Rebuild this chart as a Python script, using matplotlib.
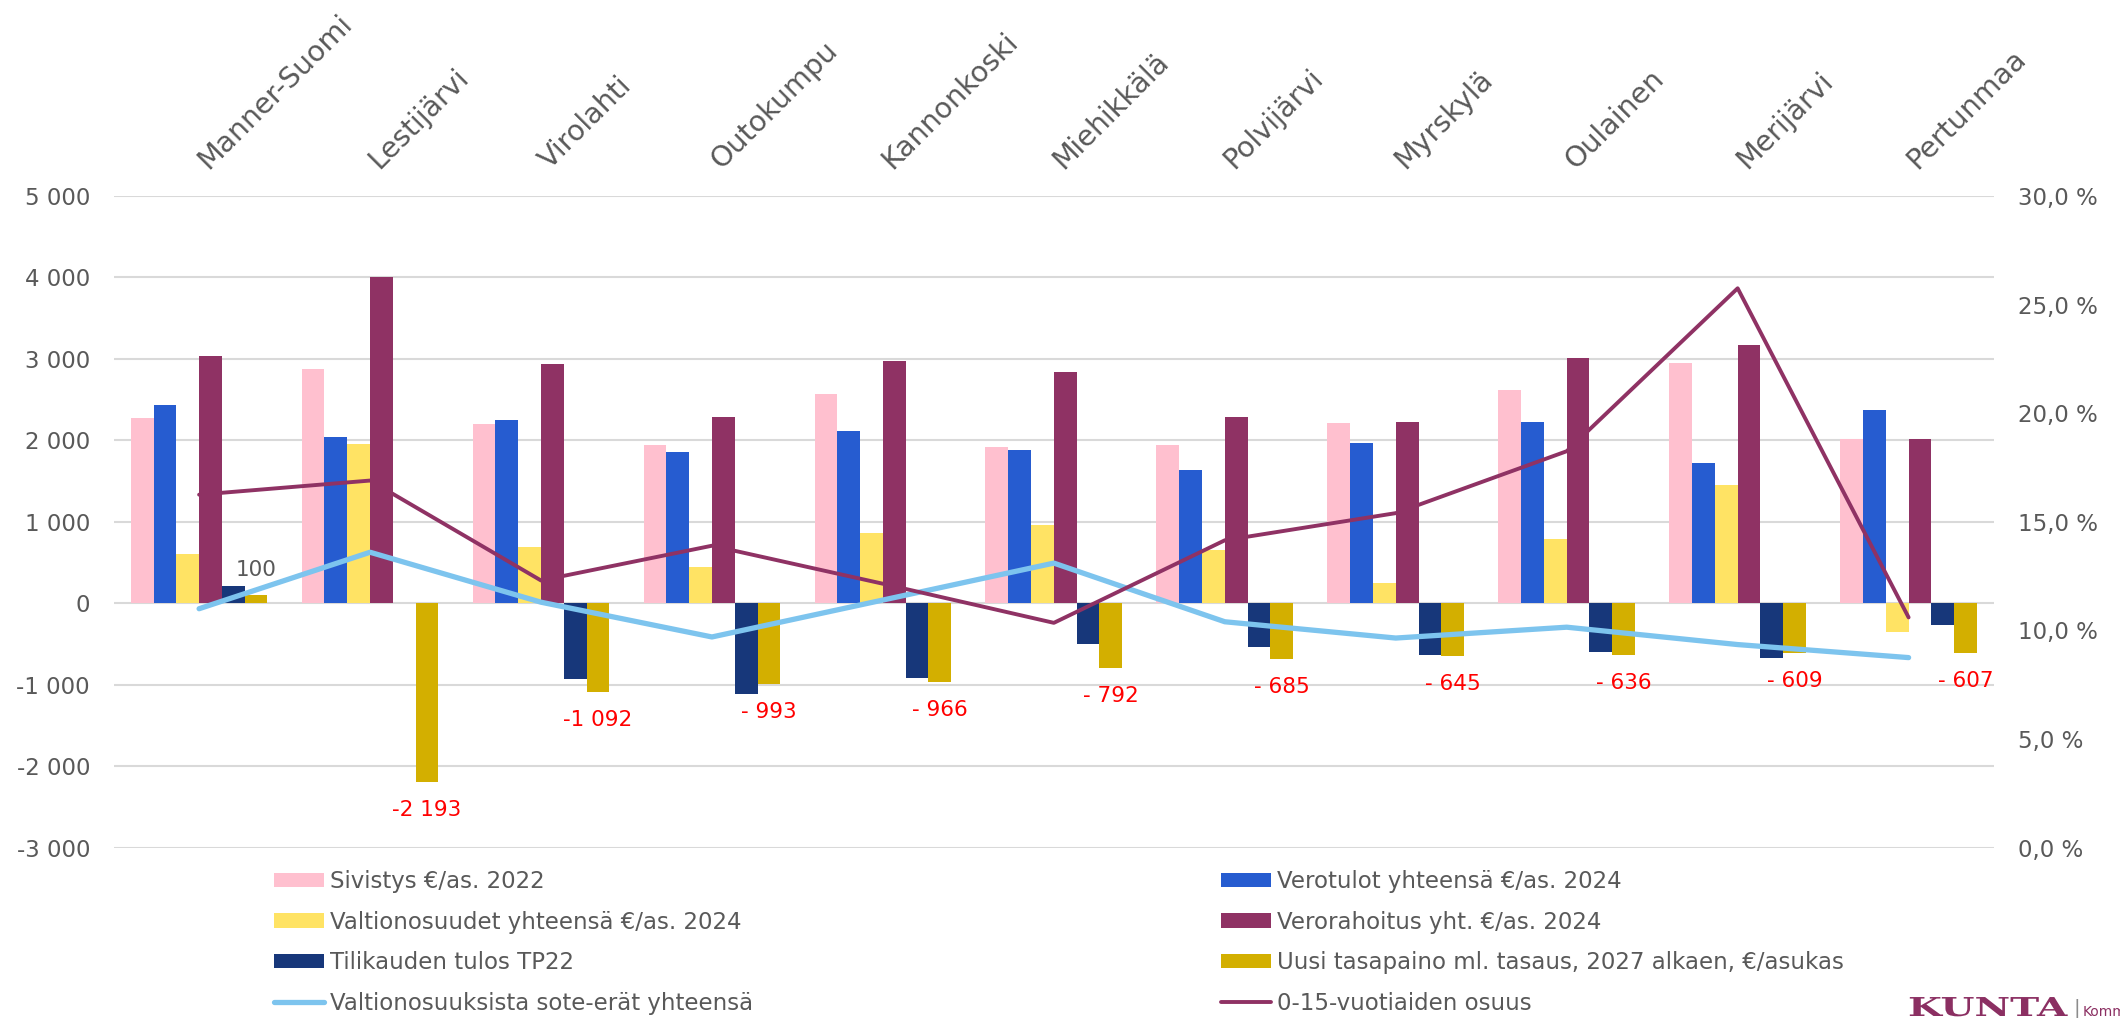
import numpy as np
import matplotlib
matplotlib.use("Agg")
import matplotlib.pyplot as plt
from matplotlib.ticker import FuncFormatter
from matplotlib.transforms import ScaledTranslation, Affine2D
from matplotlib.textpath import TextPath
from matplotlib.patches import PathPatch
from matplotlib.font_manager import FontProperties

# municipalities (x axis, shown on top)
kunnat = ["Manner-Suomi", "Lestijärvi", "Virolahti", "Outokumpu", "Kannonkoski",
          "Miehikkälä", "Polvijärvi", "Myrskylä", "Oulainen", "Merijärvi", "Pertunmaa"]

# bar series, €/asukas
sivistys = [2280, 2870, 2200, 1940, 2565, 1920, 1940, 2210, 2620, 2945, 2020]
verotulot = [2435, 2040, 2245, 1855, 2110, 1880, 1640, 1965, 2220, 1720, 2370]
valtionosuudet = [600, 1955, 685, 440, 865, 960, 650, 255, 785, 1455, -350]
verorahoitus = [3040, 4000, 2935, 2290, 2975, 2845, 2290, 2220, 3005, 3165, 2015]
tilikauden_tulos = [210, np.nan, -935, -1110, -915, -505, -535, -640, -600, -670, -270]
uusi_tasapaino = [100, -2193, -1092, -993, -966, -792, -685, -645, -636, -609, -607]

# line series, % (right axis)
sote_erat = [11.0, 13.6, 11.3, 9.7, 11.4, 13.1, 10.4, 9.65, 10.15, 9.35, 8.75]
nuoret_osuus = [16.25, 16.9, 12.3, 13.9, 12.15, 10.35, 14.15, 15.4, 18.25, 25.75, 10.6]

bar_names = ["Sivistys €/as. 2022", "Verotulot yhteensä €/as. 2024",
             "Valtionosuudet yhteensä €/as. 2024", "Verorahoitus yht. €/as. 2024",
             "Tilikauden tulos TP22", "Uusi tasapaino ml. tasaus, 2027 alkaen, €/asukas"]
line_names = ["Valtionosuuksista sote-erät yhteensä", "0-15-vuotiaiden osuus"]

bar_colors = ["#FFC0CF", "#265CD0", "#FFE364", "#8F3264", "#17377A", "#D3AF00"]
sote_color = "#7DC4EE"
nuoret_color = "#8F3264"
text_gray = "#595959"
logo_color = "#8B2F62"

fig = plt.figure(figsize=(21.2, 10.18), dpi=100)
ax = fig.add_axes([0.0536, 0.1673, 0.8870, 0.6402])

x = np.arange(len(kunnat))
w = 0.8 / 6
series = [sivistys, verotulot, valtionosuudet, verorahoitus, tilikauden_tulos, uusi_tasapaino]
bars = []
for k, (vals, name, col) in enumerate(zip(series, bar_names, bar_colors)):
    b = ax.bar(x + (k - 2.5) * w, vals, w, color=col, label=name, zorder=2)
    bars.append(b)

# data labels for the new balance series
for xi, v in zip(x + 2.5 * w, uusi_tasapaino):
    s = f"{abs(v):,}".replace(",", " ")
    if v < 0:
        lab = "-" + s if abs(v) >= 1000 else "- " + s
        ax.annotate(lab, (xi, v), xytext=(0, -20), textcoords="offset points",
                    ha="center", va="center", color="#FF0000", fontsize=15.5)
    else:
        ax.annotate(s, (xi, v), xytext=(0, 18), textcoords="offset points",
                    ha="center", va="center", color=text_gray, fontsize=15.5)

ax.set_xlim(-0.5, len(kunnat) - 0.5)
ax.set_ylim(-3000, 5000)
ax.set_yticks(np.arange(-3000, 5001, 1000))
ax.yaxis.set_major_formatter(FuncFormatter(lambda v, p: f"{v:,.0f}".replace(",", " ")))
ax.yaxis.grid(True, color="#D9D9D9", lw=1.5, zorder=0)
ax.set_axisbelow(True)

ax.xaxis.tick_top()
ax.set_xticks(x)
ax.set_xticklabels(kunnat, rotation=45, ha="left", va="baseline", rotation_mode="anchor")
ax.tick_params(axis="x", length=0, pad=19, labelsize=20.5, colors=text_gray)
shift = ScaledTranslation(9 / 100, 0, fig.dpi_scale_trans)
for lab in ax.get_xticklabels():
    lab.set_transform(lab.get_transform() + shift)
ax.tick_params(axis="y", length=0, pad=17, labelsize=16.5, colors=text_gray)
for sp in ax.spines.values():
    sp.set_visible(False)

ax2 = ax.twinx()
ax2.set_ylim(0, 0.30)
ax2.set_yticks(np.arange(0, 0.301, 0.05))
ax2.yaxis.set_major_formatter(FuncFormatter(lambda v, p: f"{v * 100:.1f} %".replace(".", ",")))
ax2.tick_params(axis="y", length=0, pad=17, labelsize=16.5, colors=text_gray)
for sp in ax2.spines.values():
    sp.set_visible(False)

l1, = ax2.plot(x, np.array(sote_erat) / 100, color=sote_color, lw=3.8,
               solid_capstyle="round", label=line_names[0])
l2, = ax2.plot(x, np.array(nuoret_osuus) / 100, color=nuoret_color, lw=2.8,
               solid_capstyle="round", label=line_names[1])

# legend in two separate columns
leg_kw = dict(loc="upper left", frameon=False, fontsize=16.5, labelcolor=text_gray,
              handlelength=2.2, handleheight=0.57, handletextpad=0.25,
              labelspacing=0.77, borderpad=0, borderaxespad=0)
fig.legend([bars[0], bars[2], bars[4], l1], [bar_names[0], bar_names[2], bar_names[4], line_names[0]],
           bbox_to_anchor=(274 / 2120, 1 - 870 / 1018), **leg_kw)
fig.legend([bars[1], bars[3], bars[5], l2], [bar_names[1], bar_names[3], bar_names[5], line_names[1]],
           bbox_to_anchor=(1221 / 2120, 1 - 870 / 1018), **leg_kw)

# logo, bottom right (wide serif wordmark)
tp = TextPath((0, 0), "KUNTA", size=26, prop=FontProperties(family="DejaVu Serif", weight="bold"))
fig.add_artist(PathPatch(tp, transform=Affine2D().scale(1.5, 1).translate(1908, 2),
                         color=logo_color, lw=0))
fig.text(2073 / 2120, 0, "|", fontsize=14, color="#8C8C8C", va="bottom")
fig.text(2083 / 2120, 2 / 1018, "Komm", fontsize=10, color=logo_color, va="baseline")

fig.savefig("out.png", dpi=100)
